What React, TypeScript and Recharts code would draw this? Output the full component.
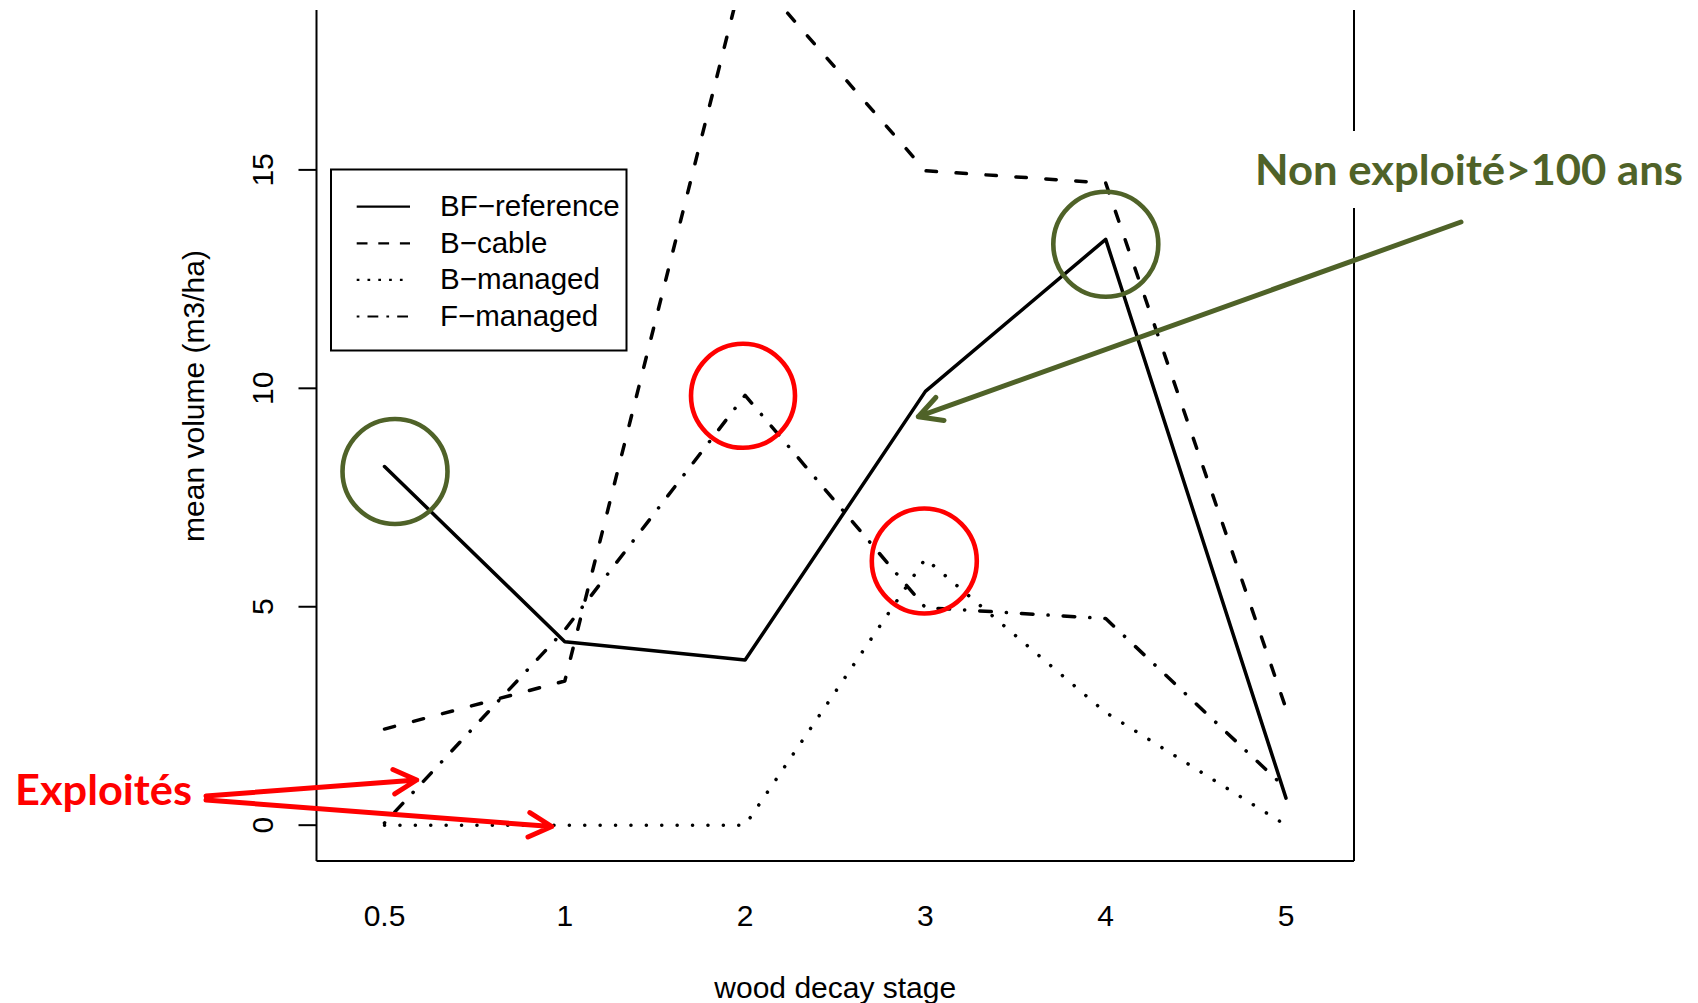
import React from 'react';
import { LineChart, Line, XAxis, YAxis, Label } from 'recharts';

// wood decay stages (x categories)
const stages = ['0.5', '1', '2', '3', '4', '5'];

// mean volume (m3/ha) per stage
const bfReference = [8.21, 4.2, 3.78, 9.93, 13.41, 0.62];
const bCable = [2.2, 3.3, 19.7, 14.98, 14.7, 2.67];
const bManaged = [0, 0, 0, 6.1, 2.58, 0];
const fManaged = [0.05, 4.47, 9.84, 4.98, 4.73, 0.84];

const yTicks = [0, 5, 10, 15];

const series = [
  { key: 'bfReference', name: 'BF\u2212reference', values: bfReference, dash: undefined, legendDash: undefined },
  { key: 'bCable', name: 'B\u2212cable', values: bCable, dash: '10.4 19.6', legendDash: '10.8 10.8' },
  { key: 'bManaged', name: 'B\u2212managed', values: bManaged, dash: '0.1 15.3', legendDash: '2.7 8.1' },
  { key: 'fManaged', name: 'F\u2212managed', values: fManaged, dash: '0.2 15 11.6 15', legendDash: '2.7 8.1 10.8 8.1' },
];

const data = stages.map((stage, i) => {
  const row: Record<string, string | number> = { stage };
  series.forEach((s) => {
    row[s.key] = s.values[i];
  });
  return row;
});

const FONT = '"Liberation Sans", Arial, Helvetica, sans-serif';
const NOTE_FONT = 'Lato, "Open Sans", sans-serif';
const RED = '#FF0000';
const GREEN = '#4F6228';

// open chevron arrow from (x1,y1) to tip (x2,y2)
function arrowPath(x1: number, y1: number, x2: number, y2: number, len = 26, half = 28) {
  const a = Math.atan2(y1 - y2, x1 - x2);
  const h = (half * Math.PI) / 180;
  const p1 = [x2 + len * Math.cos(a + h), y2 + len * Math.sin(a + h)];
  const p2 = [x2 + len * Math.cos(a - h), y2 + len * Math.sin(a - h)];
  return `M${x1},${y1} L${x2},${y2} M${p1[0]},${p1[1]} L${x2},${y2} L${p2[0]},${p2[1]}`;
}

const YTick = (props: any) => {
  const { x, y, payload } = props;
  return (
    <text
      x={x}
      y={y}
      transform={`rotate(-90 ${x} ${y})`}
      textAnchor="middle"
      fontSize={30}
      fontFamily={FONT}
      fill="#000"
    >
      {payload.value}
    </text>
  );
};

export default function App() {
  return (
    <div style={{ position: 'absolute', left: 0, top: 0, width: 1698, height: 1003, background: '#fff' }}>
      <LineChart
        width={1698}
        height={1003}
        data={data}
        margin={{ top: 10, right: 343, bottom: 82, left: 256.5 }}
      >
        <XAxis
          dataKey="stage"
          type="category"
          height={60}
          padding={{ left: 68, right: 68 }}
          axisLine={{ stroke: '#000', strokeWidth: 2 }}
          tickLine={false}
          tickSize={0}
          tickMargin={44}
          tick={{ fill: '#000', fontSize: 30, fontFamily: FONT }}
        >
          <Label
            value="wood decay stage"
            position="bottom"
            offset={56}
            fill="#000"
            fontSize={30}
            fontFamily={FONT}
          />
        </XAxis>
        <YAxis
          type="number"
          width={60}
          domain={[-0.82, 18.66]}
          allowDataOverflow
          ticks={yTicks}
          interval={0}
          axisLine={{ stroke: '#000', strokeWidth: 2 }}
          tickLine={{ stroke: '#000', strokeWidth: 2 }}
          tickSize={18}
          tickMargin={25.2}
          tick={<YTick />}
        />
        <YAxis
          yAxisId="right"
          orientation="right"
          type="number"
          width={1}
          domain={[-0.82, 18.66]}
          allowDataOverflow
          tick={false}
          tickLine={false}
          axisLine={{ stroke: '#000', strokeWidth: 2 }}
        />
        {series.map((s) => (
          <Line
            key={s.key}
            type="linear"
            dataKey={s.key}
            name={s.name}
            stroke="#000"
            strokeWidth={3.5}
            strokeDasharray={s.dash}
            strokeLinecap="round"
            strokeLinejoin="round"
            dot={false}
            activeDot={false}
            isAnimationActive={false}
          />
        ))}
      </LineChart>

      <svg
        width={1698}
        height={1003}
        style={{ position: 'absolute', left: 0, top: 0, pointerEvents: 'none' }}
      >
        {/* y axis title */}
        <text
          x={204}
          y={396}
          transform="rotate(-90 204 396)"
          textAnchor="middle"
          fontSize={30}
          fontFamily={FONT}
          fill="#000"
        >
          mean volume (m3/ha)
        </text>

        {/* legend */}
        <rect x={331} y={169.5} width={295.5} height={181} fill="#fff" stroke="#000" strokeWidth={2} />
        {series.map((s, i) => (
          <g key={s.key}>
            <line
              x1={356.7}
              x2={410}
              y1={206.7 + i * 36.6}
              y2={206.7 + i * 36.6}
              stroke="#000"
              strokeWidth={2.2}
              strokeDasharray={s.legendDash}
            />
            <text x={440} y={216 + i * 36.6} fontSize={29.5} fontFamily={FONT} fill="#000">
              {s.name}
            </text>
          </g>
        ))}

        {/* annotation circles */}
        <circle cx={395} cy={471.5} r={52.5} fill="none" stroke={GREEN} strokeWidth={4.6} />
        <circle cx={1105.8} cy={244.2} r={52.5} fill="none" stroke={GREEN} strokeWidth={4.6} />
        <circle cx={743} cy={395.8} r={52} fill="none" stroke={RED} strokeWidth={4.6} />
        <circle cx={924.3} cy={561} r={52.5} fill="none" stroke={RED} strokeWidth={4.6} />

        {/* red arrows + label */}
        <path d={arrowPath(206, 796, 416.7, 780)} fill="none" stroke={RED} strokeWidth={5} strokeLinecap="round" strokeLinejoin="round" />
        <path d={arrowPath(206, 800, 551.8, 826.5)} fill="none" stroke={RED} strokeWidth={5} strokeLinecap="round" strokeLinejoin="round" />
        <text
          x={15}
          y={805}
          fontSize={42}
          fontWeight={700}
          fontFamily={NOTE_FONT}
          fill={RED}
          textLength={177}
          lengthAdjust="spacingAndGlyphs"
        >
          Exploités
        </text>

        {/* green label with white box over the frame */}
        <rect x={1250} y={131} width={448} height={77} fill="#fff" />
        <text
          x={1255}
          y={185}
          fontSize={42}
          fontWeight={700}
          fontFamily={NOTE_FONT}
          fill={GREEN}
          textLength={428}
          lengthAdjust="spacingAndGlyphs"
        >
          Non exploité&gt;100 ans
        </text>
        <path d={arrowPath(1461, 222, 918.3, 416.7)} fill="none" stroke={GREEN} strokeWidth={5} strokeLinecap="round" strokeLinejoin="round" />
      </svg>
    </div>
  );
}
